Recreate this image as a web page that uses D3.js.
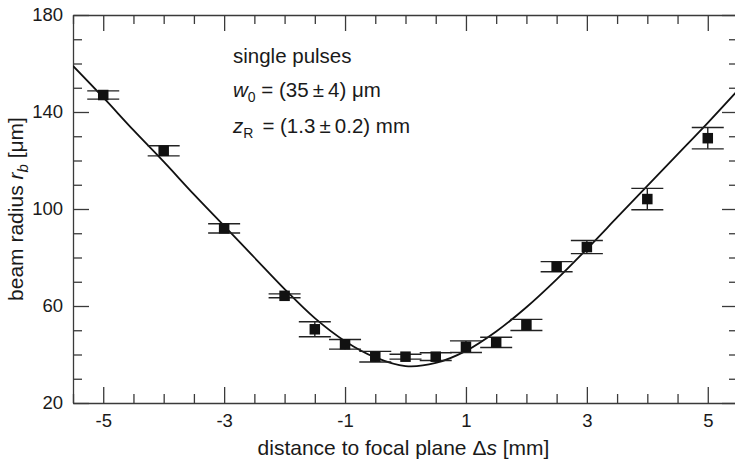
<!DOCTYPE html>
<html>
<head>
<meta charset="utf-8">
<script src="https://cdn.jsdelivr.net/npm/d3@7"></script>
<style>
  html, body { margin: 0; padding: 0; background: #fff; }
  svg { display: block; font-family: "Liberation Sans", Arial, Helvetica, sans-serif; }
  .axis path, .axis line { stroke: #3a3a3a; stroke-width: 1.3; }
  .axis text { fill: #1a1a1a; font-size: 18.5px; }
</style>
</head>
<body>
<div id="chart"></div>
<script>
// --- data ---
const distance = [-5, -4, -3, -2, -1.5, -1, -0.5, 0, 0.5, 1, 1.5, 2, 2.5, 3, 4, 5];
const radius   = [147, 124, 92, 64.2, 50.4, 44.2, 39.1, 39.1, 39.1, 43.2, 45, 52.2, 76.2, 84.3, 104.1, 129.2];
const radiusErr = [1.7, 2.1, 1.9, 0.8, 3.1, 2, 2.2, 1, 1.6, 2.4, 2.1, 2.3, 2.1, 2.7, 4.4, 4.4];

// fitted beam caustic, sampled from the drawn curve
const fitDistance = [-5.5, -5, -4.5, -4, -3.5, -3, -2.5, -2, -1.5, -1, -0.5, 0, 0.5, 1, 1.5, 2, 2.5, 3, 3.5, 4, 4.5, 5, 5.5];
const fitRadius   = [159, 146, 132.5, 119.5, 106, 93, 80, 67, 55, 45.5, 38.8, 35.2, 36.5, 41.5, 49.5, 59.5, 71, 83.5, 96.5, 109.5, 122.5, 135.5, 149];

const xMajor = [-5, -3, -1, 1, 3, 5];
const xMinor = [-5.5, -4.5, -4, -3.5, -2.5, -2, -1.5, -0.5, 0, 0.5, 1.5, 2, 2.5, 3.5, 4, 4.5, 5.5];
const yMajor = [20, 60, 100, 140, 180];
const yMinor = [30, 40, 50, 70, 80, 90, 110, 120, 130, 150, 160, 170];

const W = 735, H = 460;
const m = { left: 73, top: 15, right: 738, bottom: 403 };  // plot frame; right edge falls just off-canvas

const svg = d3.select("#chart").append("svg").attr("width", W).attr("height", H);

const x = d3.scaleLinear().domain([-5.5, 5.5]).range([m.left, m.right]);
const y = d3.scaleLinear().domain([20, 180]).range([m.bottom, m.top]);

svg.append("defs").append("clipPath").attr("id", "plot")
  .append("rect").attr("x", m.left).attr("y", m.top)
  .attr("width", m.right - m.left).attr("height", m.bottom - m.top);

// --- axes: ticks point inward on all four sides ---
const major = 16, minor = 9;
function axis(gen, tr, vals, size, labels, pad) {
  return svg.append("g").attr("class", "axis").attr("transform", tr)
    .call(gen.tickValues(vals).tickSize(-size).tickSizeOuter(0).tickPadding(pad || 0)
      .tickFormat(labels ? (d => String(d)) : ""));   // plain hyphen minus like the original
}
axis(d3.axisBottom(x), `translate(0,${m.bottom})`, xMajor, major, true, 11);
axis(d3.axisBottom(x), `translate(0,${m.bottom})`, xMinor, minor, false).select(".domain").remove();
axis(d3.axisTop(x), `translate(0,${m.top})`, xMajor, major, false);
axis(d3.axisTop(x), `translate(0,${m.top})`, xMinor, minor, false).select(".domain").remove();
axis(d3.axisLeft(y), `translate(${m.left},0)`, yMajor, major, true, 10);
axis(d3.axisLeft(y), `translate(${m.left},0)`, yMinor, minor, false).select(".domain").remove();
axis(d3.axisRight(y), `translate(${m.right},0)`, yMajor, major, false);
axis(d3.axisRight(y), `translate(${m.right},0)`, yMinor, minor, false).select(".domain").remove();
svg.selectAll(".axis .tick text").attr("fill", "#1a1a1a");

// --- fit curve ---
const fit = d3.range(fitDistance.length).map(i => [fitDistance[i], fitRadius[i]]);
svg.append("path")
  .attr("clip-path", "url(#plot)")
  .attr("d", d3.line().x(d => x(d[0])).y(d => y(d[1])).curve(d3.curveCatmullRom.alpha(0.5))(fit))
  .attr("fill", "none").attr("stroke", "#111").attr("stroke-width", 1.8);

// --- measured points with error bars ---
const pts = distance.map((d, i) => ({ d, r: radius[i], e: radiusErr[i] }));
const cap = 16, sq = 10.5;
const pg = svg.append("g").selectAll("g").data(pts).join("g");
pg.append("line")
  .attr("x1", p => x(p.d)).attr("x2", p => x(p.d))
  .attr("y1", p => y(p.r + p.e)).attr("y2", p => y(p.r - p.e));
pg.append("line")
  .attr("x1", p => x(p.d) - cap).attr("x2", p => x(p.d) + cap)
  .attr("y1", p => y(p.r + p.e)).attr("y2", p => y(p.r + p.e));
pg.append("line")
  .attr("x1", p => x(p.d) - cap).attr("x2", p => x(p.d) + cap)
  .attr("y1", p => y(p.r - p.e)).attr("y2", p => y(p.r - p.e));
pg.selectAll("line").attr("stroke", "#222").attr("stroke-width", 1.4);
pg.append("rect")
  .attr("x", p => x(p.d) - sq / 2).attr("y", p => y(p.r) - sq / 2)
  .attr("width", sq).attr("height", sq).attr("fill", "#111");

// --- axis titles ---
const xt = svg.append("text").attr("x", (m.left + m.right) / 2 - 2).attr("y", 455)
  .attr("text-anchor", "middle").attr("font-size", 21).attr("fill", "#1a1a1a");
xt.append("tspan").text("distance to focal plane \u0394");
xt.append("tspan").attr("font-style", "italic").text("s");
xt.append("tspan").text(" [mm]");

const yt = svg.append("text").attr("transform", `translate(23,${(m.top + m.bottom) / 2}) rotate(-90)`)
  .attr("text-anchor", "middle").attr("font-size", 21).attr("fill", "#1a1a1a");
yt.append("tspan").text("beam radius ");
yt.append("tspan").attr("font-style", "italic").text("r");
yt.append("tspan").attr("font-style", "italic").attr("font-size", 15).attr("dy", 5).text("b");
yt.append("tspan").attr("dy", -5).text(" [\u03bcm]");

// --- annotation ---
const note = svg.append("g").attr("font-size", 20.5).attr("fill", "#1a1a1a");
note.append("text").attr("x", 233).attr("y", 62.5).text("single pulses");
const l2 = note.append("text").attr("x", 233).attr("y", 97);
l2.append("tspan").attr("font-style", "italic").text("w");
l2.append("tspan").attr("font-size", 14).attr("dy", 5).text("0");
l2.append("tspan").attr("dy", -5).text(" = (35\u2009\u00b1\u20094) \u03bcm");
const l3 = note.append("text").attr("x", 233).attr("y", 133);
l3.append("tspan").attr("font-style", "italic").text("z");
l3.append("tspan").attr("font-size", 14).attr("dy", 5).text("R");
l3.append("tspan").attr("dy", -5).attr("dx", 9).text("= (1.3\u2009\u00b1\u20090.2) mm");
</script>
</body>
</html>
